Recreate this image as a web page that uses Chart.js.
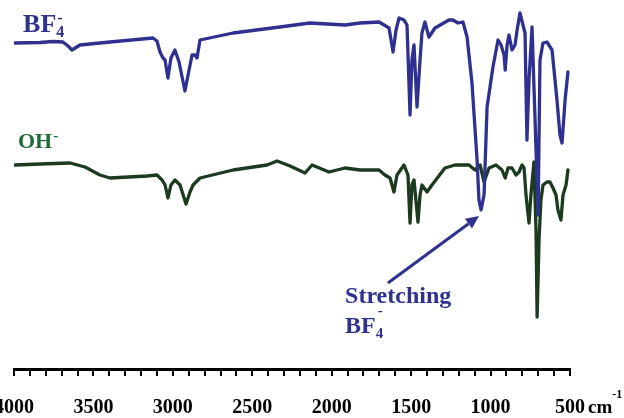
<!DOCTYPE html>
<html>
<head>
<meta charset="utf-8">
<script src="https://cdn.jsdelivr.net/npm/chart.js@4/dist/chart.umd.min.js"></script>
<style>
  html, body { margin: 0; padding: 0; background: #ffffff; }
  #wrap { width: 624px; height: 418px; }
</style>
</head>
<body>
<div id="wrap"><canvas id="c" width="624" height="418"></canvas></div>
<script>
// FT-IR spectra (wavenumber in cm^-1, transmittance in arbitrary units)
const wavenumbersBF4 = [3994,3836,3754,3692,3660,3635,3585,3396,3125,3100,3081,3062,3049,3031,3012,2987,2961,2924,2898,2879,2861,2848,2829,2621,2326,2137,1916,1822,1702,1639,1614,1595,1576,1545,1526,1507,1495,1482,1463,1444,1432,1413,1388,1350,1262,1237,1205,1174,1148,1117,1085,1073,1060,1041,1022,985,953,934,915,908,896,884,865,846,833,815,796,783,771,758,739,720,701,689,670,645,613,582,563,550,531,513];
const transBF4 = [326,326.5,327.5,327,323,319,324,327,331,328,317,311,309,291,311,319,307,278,299,314,314,311,329,336,342,346,344,346,347,341,317,339,351,349,344,254,309,324,262,309,336,347,332,341,349,349,346,347,332,286,209,169,159,174,262,302,329,324,314,299,324,334,319,324,339,356,344,336,229,289,342,249,154,309,326,327,319,269,234,226,269,297];

const wavenumbersOH = [3994,3836,3647,3553,3459,3396,3163,3100,3068,3049,3031,3012,2987,2955,2917,2892,2873,2829,2621,2407,2344,2262,2168,2124,2017,1916,1822,1702,1665,1633,1608,1589,1545,1520,1507,1495,1482,1457,1444,1432,1400,1369,1287,1224,1136,1098,1066,1041,1010,966,928,908,890,865,840,821,802,789,777,758,746,727,714,707,695,683,670,645,626,607,588,576,557,544,525,513];
const transOH = [204,205,206,202,194,191,193,194,189,184,171,184,189,184,165,177,184,191,199,204,208,203,196,204,197,201,199,199,194,191,177,194,204,194,146,184,189,147,174,184,177,184,201,204,204,199,204,187,201,204,199,191,201,201,194,197,204,201,174,146,174,207,139,52,129,169,184,187,187,181,174,159,149,174,184,199];

const xTickLabels = [4000,3500,3000,2500,2000,1500,1000,500];

const BLUE = '#2e3190';
const GREEN_LINE = '#1c3a1d';
const GREEN_TEXT = '#1d6b36';
const SERIF = '"Liberation Serif", "Times New Roman", serif';

function toPoints(xs, ys) { return xs.map((x, i) => ({ x: x, y: ys[i] })); }

const annotations = {
  id: 'annotations',
  afterDatasetsDraw(chart) {
    const ctx = chart.ctx;
    const xs = chart.scales.x, ys = chart.scales.y;
    const X = v => xs.getPixelForValue(v);
    const Y = v => ys.getPixelForValue(v);
    ctx.save();
    ctx.textBaseline = 'alphabetic';
    ctx.textAlign = 'left';

    // BF4- label (top)
    ctx.fillStyle = BLUE;
    ctx.font = 'bold 26px ' + SERIF;
    let x0 = X(3943), y0 = Y(337);
    ctx.fillText('BF', x0, y0);
    let w = ctx.measureText('BF').width;
    ctx.font = 'bold 16px ' + SERIF;
    ctx.fillText('4', x0 + w, y0 + 5);
    ctx.fillText('-', x0 + w + 1, y0 - 9);

    // OH- label
    ctx.fillStyle = GREEN_TEXT;
    ctx.font = 'bold 22px ' + SERIF;
    x0 = X(3975); y0 = Y(221);
    ctx.fillText('OH', x0, y0);
    w = ctx.measureText('OH').width;
    ctx.font = 'bold 15px ' + SERIF;
    ctx.fillText('-', x0 + w + 1, y0 - 8);

    // Stretching BF4- annotation
    ctx.fillStyle = BLUE;
    ctx.font = 'bold 24px ' + SERIF;
    x0 = X(1916); y0 = Y(66);
    ctx.fillText('Stretching', x0, y0);
    y0 = Y(36);
    ctx.fillText('BF', x0, y0);
    w = ctx.measureText('BF').width;
    ctx.font = 'bold 15px ' + SERIF;
    ctx.fillText('4', x0 + w, y0 + 5);
    ctx.fillText('-', x0 + w + 2, y0 - 18);

    // Arrow
    const ax1 = X(1646), ay1 = Y(86), ax2 = X(1073), ay2 = Y(153);
    const ang = Math.atan2(ay2 - ay1, ax2 - ax1);
    const hl = 13, hw = 6;
    ctx.strokeStyle = BLUE;
    ctx.lineWidth = 3;
    ctx.beginPath();
    ctx.moveTo(ax1, ay1);
    ctx.lineTo(ax2 - hl * Math.cos(ang), ay2 - hl * Math.sin(ang));
    ctx.stroke();
    ctx.beginPath();
    ctx.moveTo(ax2, ay2);
    ctx.lineTo(ax2 - hl * Math.cos(ang) - hw * Math.sin(ang), ay2 - hl * Math.sin(ang) + hw * Math.cos(ang));
    ctx.lineTo(ax2 - hl * Math.cos(ang) + hw * Math.sin(ang), ay2 - hl * Math.sin(ang) - hw * Math.cos(ang));
    ctx.closePath();
    ctx.fill();

    // unit label cm-1
    ctx.fillStyle = '#000';
    ctx.font = 'bold 19px ' + SERIF;
    const ux = xs.getPixelForValue(500) + 18;
    const uy = 413;
    ctx.fillText('cm', ux, uy);
    w = ctx.measureText('cm').width;
    ctx.font = 'bold 12px ' + SERIF;
    ctx.fillText('-1', ux + w, uy - 15);
    ctx.restore();
  }
};

new Chart(document.getElementById('c'), {
  type: 'line',
  data: {
    datasets: [
      {
        label: 'BF4-',
        data: toPoints(wavenumbersBF4, transBF4),
        borderColor: BLUE,
        borderWidth: 3.3,
        pointRadius: 0,
        tension: 0,
        fill: false,
        borderJoinStyle: 'round',
        borderCapStyle: 'round'
      },
      {
        label: 'OH-',
        data: toPoints(wavenumbersOH, transOH),
        borderColor: GREEN_LINE,
        borderWidth: 3.3,
        pointRadius: 0,
        tension: 0,
        fill: false,
        borderJoinStyle: 'round',
        borderCapStyle: 'round'
      }
    ]
  },
  options: {
    responsive: false,
    devicePixelRatio: 1,
    animation: false,
    layout: { padding: { left: 14, right: 54, top: 0, bottom: 0 } },
    plugins: { legend: { display: false }, tooltip: { enabled: false } },
    scales: {
      x: {
        type: 'linear',
        reverse: true,
        min: 500,
        max: 4000,
        position: 'bottom',
        grid: { display: true, drawOnChartArea: false, drawTicks: true, tickLength: 7, color: '#000', lineWidth: 2 },
        border: { display: true, color: '#000', width: 3 },
        ticks: {
          stepSize: 100,
          autoSkip: false,
          maxRotation: 0,
          minRotation: 0,
          padding: 20,
          color: '#000',
          font: { family: SERIF, size: 20, weight: 'bold', lineHeight: 1.2 },
          callback: v => xTickLabels.includes(v) ? String(v) : ''
        },
        afterFit: scale => { scale.paddingLeft = 0; scale.paddingRight = 0; scale.height = 49; }
      },
      y: {
        display: false,
        min: 0,
        max: 369
      }
    }
  },
  plugins: [annotations]
});
</script>
</body>
</html>
